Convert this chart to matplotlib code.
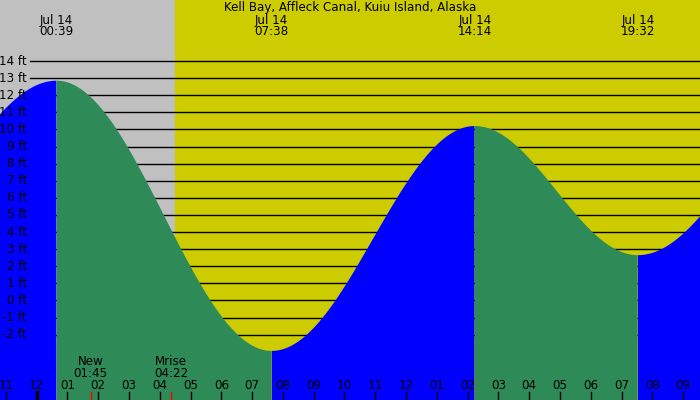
import numpy as np
import matplotlib.pyplot as plt
import matplotlib.transforms as mtransforms

# tide extremes (hours from midnight Jul 14, height in ft)
ext_hours = [-5.6, 0.65, 7.633, 14.233, 19.533, 25.9]
ext_heights = [3.0, 12.85, -2.95, 10.2, 2.65, 12.6]
ext_labels = ["Jul 14\n00:39", "Jul 14\n07:38", "Jul 14\n14:14", "Jul 14\n19:32"]
shown_ext = [0.65, 7.633, 14.233, 19.533]

sunrise = 4.49
moon_events = ["New\n01:45", "Mrise\n04:22"]
moon_hours = [1.75, 4.367]

ft_levels = list(range(-2, 15))
hour_ticks = list(range(-1, 22))
hour_labels = ["%02d" % ((h % 12) or 12) for h in hour_ticks]

title = "Kell Bay, Affleck Canal, Kuiu Island, Alaska"

GRAY = "#c0c0c0"
YELLOW = "#cccc00"
BLUE = "#0000ff"
GREEN = "#2e8b57"
FS = 8.6

x0, x1 = -1.192, 21.55
y0, y1 = -5.82, 17.57

# cosine shape between consecutive extremes
t = np.linspace(x0, x1, 2000)
h = np.zeros_like(t)
rising = np.zeros_like(t, dtype=bool)
for i in range(len(ext_hours) - 1):
    ta, tb = ext_hours[i], ext_hours[i + 1]
    ha, hb = ext_heights[i], ext_heights[i + 1]
    m = (t >= ta) & (t <= tb)
    f = (1 - np.cos(np.pi * (t[m] - ta) / (tb - ta))) / 2
    h[m] = ha + (hb - ha) * f
    rising[m] = hb > ha

fig = plt.figure(figsize=(7, 4), dpi=100)
ax = fig.add_axes([0, 0, 1, 1])
ax.set_xlim(x0, x1)
ax.set_ylim(y0, y1)
ax.axis("off")

ax.axvspan(x0, sunrise, color=GRAY, zorder=0)
ax.axvspan(sunrise, x1, color=YELLOW, zorder=0)

for lv in ft_levels:
    ax.axhline(lv, xmin=30 / 700, xmax=1, color="black", lw=1.0, zorder=1)

ax.fill_between(t, y0, h, where=rising, color=BLUE, lw=0, zorder=2)
ax.fill_between(t, y0, h, where=~rising, color=GREEN, lw=0, zorder=2)

trans_y = mtransforms.blended_transform_factory(ax.transAxes, ax.transData)
trans_x = mtransforms.blended_transform_factory(ax.transData, ax.transAxes)

for lv in ft_levels:
    ax.text(27 / 700, lv, "%d ft" % lv, transform=trans_y, ha="right", va="center",
            fontsize=FS, zorder=3)

ax.text(0.5, 1 - 7 / 400, title, transform=ax.transAxes, ha="center", va="center",
        fontsize=FS, zorder=3)
for xe, lab in zip(shown_ext, ext_labels):
    ax.text(xe, 1 - 25.8 / 400, lab, transform=trans_x, ha="center", va="center",
            fontsize=FS, linespacing=0.85, zorder=3)

for hh, lab in zip(hour_ticks, hour_labels):
    ax.text(hh, 14.5 / 400, lab, transform=trans_x, ha="center", va="center",
            fontsize=FS, zorder=3)
    ax.plot([hh, hh], [0, 8 / 400], transform=trans_x, color="black",
            lw=2.5 if hh == 0 else 1, zorder=3)

for mh, lab in zip(moon_hours, moon_events):
    ax.text(mh, 1 - 367.5 / 400, lab, transform=trans_x, ha="center", va="center",
            fontsize=FS, linespacing=0.85, zorder=3)
    ax.plot([mh, mh], [0, 8 / 400], transform=trans_x, color="red", lw=1, zorder=3)

fig.savefig("out.png", dpi=100)
